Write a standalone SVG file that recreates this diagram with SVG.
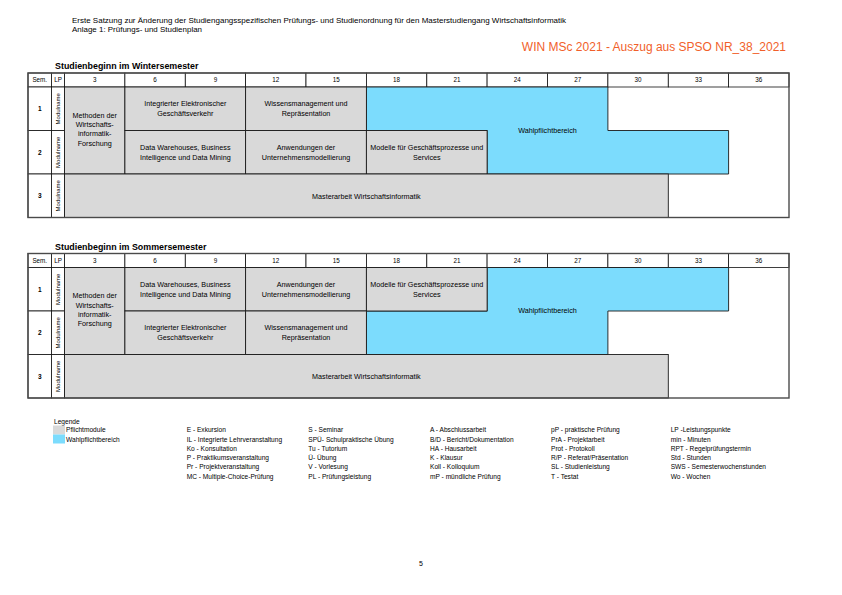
<svg xmlns="http://www.w3.org/2000/svg" width="842" height="595" viewBox="0 0 842 595">
<style>
text{font-family:"Liberation Sans",Arial,sans-serif;fill:#000}
.hd{font-size:7px}
.ttl{font-size:8.9px;font-weight:bold}
.org{font-size:12px;fill:#F15F2A}
.num{font-size:6.3px;text-anchor:middle}
.sem{font-size:6.5px;font-weight:bold;text-anchor:middle}
.mod{font-size:6px;text-anchor:middle}
.c{font-size:7.2px;text-anchor:middle}
.lg{font-size:6.6px}
.hcell{fill:#fff;stroke:#111;stroke-width:0.8}
.gray{fill:#D9D9D9;stroke:#1a1a1a;stroke-width:0.9}
.blue{fill:#7CDCFD;stroke:#1a1a1a;stroke-width:0.9}
.wcell{fill:#fff;stroke:#111;stroke-width:0.8}
.outer{fill:none;stroke:#4a4a4a;stroke-width:1.4}
</style>
<rect width="842" height="595" fill="#fff"/>

<g id="header">
<text class="hd" x="72" y="23" textLength="494" lengthAdjust="spacingAndGlyphs">Erste Satzung zur Änderung der Studiengangsspezifischen Prüfungs- und Studienordnung für den Masterstudiengang Wirtschaftsinformatik</text>
<text class="hd" x="72" y="31.5" textLength="130" lengthAdjust="spacingAndGlyphs">Anlage 1: Prüfungs- und Studienplan</text>
<text class="org" x="786" y="50.5" text-anchor="end">WIN MSc 2021 - Auszug aus SPSO NR_38_2021</text>
</g>

<!-- ============ WINTER ============ -->
<g id="winter-table">
<text class="ttl" x="55" y="69">Studienbeginn im Wintersemester</text>
<rect x="28" y="73" width="761" height="144.5" fill="#fff"/>
<g id="w-headrow">
<rect class="hcell" x="28" y="73" width="23.5" height="14"/>
<rect class="hcell" x="51.5" y="73" width="13" height="14"/>
<rect class="hcell" x="64.5" y="73" width="60.4" height="14"/>
<rect class="hcell" x="124.9" y="73" width="60.4" height="14"/>
<rect class="hcell" x="185.3" y="73" width="60.3" height="14"/>
<rect class="hcell" x="245.6" y="73" width="60.4" height="14"/>
<rect class="hcell" x="306" y="73" width="60.4" height="14"/>
<rect class="hcell" x="366.4" y="73" width="60.4" height="14"/>
<rect class="hcell" x="426.8" y="73" width="60.3" height="14"/>
<rect class="hcell" x="487.1" y="73" width="60.4" height="14"/>
<rect class="hcell" x="547.5" y="73" width="60.4" height="14"/>
<rect class="hcell" x="607.9" y="73" width="60.4" height="14"/>
<rect class="hcell" x="668.3" y="73" width="60.3" height="14"/>
<rect class="hcell" x="728.6" y="73" width="60.4" height="14"/>
<text class="num" x="39.75" y="82.3">Sem.</text>
<text class="num" x="58" y="82.3">LP</text>
<text class="num" x="94.7" y="82.3">3</text>
<text class="num" x="155.1" y="82.3">6</text>
<text class="num" x="215.4" y="82.3">9</text>
<text class="num" x="275.8" y="82.3">12</text>
<text class="num" x="336.2" y="82.3">15</text>
<text class="num" x="396.6" y="82.3">18</text>
<text class="num" x="457" y="82.3">21</text>
<text class="num" x="517.3" y="82.3">24</text>
<text class="num" x="577.7" y="82.3">27</text>
<text class="num" x="638.1" y="82.3">30</text>
<text class="num" x="698.5" y="82.3">33</text>
<text class="num" x="758.8" y="82.3">36</text>
</g>
<g id="w-semcol">
<rect class="wcell" x="28" y="87" width="23.5" height="43.5"/>
<rect class="wcell" x="28" y="130.5" width="23.5" height="43.5"/>
<rect class="wcell" x="28" y="174" width="23.5" height="43.5"/>
<rect class="wcell" x="51.5" y="87" width="13" height="43.5"/>
<rect class="wcell" x="51.5" y="130.5" width="13" height="43.5"/>
<rect class="wcell" x="51.5" y="174" width="13" height="43.5"/>
<text class="sem" x="39.75" y="111">1</text>
<text class="sem" x="39.75" y="154.5">2</text>
<text class="sem" x="39.75" y="198">3</text>
<text class="mod" transform="translate(60.2,108.75) rotate(-90)">Modulname</text>
<text class="mod" transform="translate(60.2,152.25) rotate(-90)">Modulname</text>
<text class="mod" transform="translate(60.2,195.75) rotate(-90)">Modulname</text>
</g>
<g id="w-wahlpflicht">
<polygon class="blue" points="366.4,87 607.9,87 607.9,130.5 728.6,130.5 728.6,174 487.1,174 487.1,130.5 366.4,130.5"/>
<text class="c" x="547.5" y="133.3">Wahlpflichtbereich</text>
</g>
<g id="w-methoden">
<rect class="gray" x="64.5" y="87" width="60.4" height="87"/>
<text class="c" x="94.7" y="117.8">Methoden der</text>
<text class="c" x="94.7" y="127.1">Wirtschafts-</text>
<text class="c" x="94.7" y="136.4">informatik-</text>
<text class="c" x="94.7" y="145.7">Forschung</text>
</g>
<g id="w-ieg">
<rect class="gray" x="124.9" y="87" width="120.7" height="43.5"/>
<text class="c" x="185.3" y="106.1">Integrierter Elektronischer</text>
<text class="c" x="185.3" y="116.4">Geschäftsverkehr</text>
</g>
<g id="w-wm">
<rect class="gray" x="245.6" y="87" width="120.8" height="43.5"/>
<text class="c" x="306" y="106.1">Wissensmanagement und</text>
<text class="c" x="306" y="116.4">Repräsentation</text>
</g>
<g id="w-dw">
<rect class="gray" x="124.9" y="130.5" width="120.7" height="43.5"/>
<text class="c" x="185.3" y="149.6">Data Warehouses, Business</text>
<text class="c" x="185.3" y="159.9">Intelligence und Data Mining</text>
</g>
<g id="w-aum">
<rect class="gray" x="245.6" y="130.5" width="120.8" height="43.5"/>
<text class="c" x="306" y="149.6">Anwendungen der</text>
<text class="c" x="306" y="159.9">Unternehmensmodellierung</text>
</g>
<g id="w-mgs">
<rect class="gray" x="366.4" y="130.5" width="120.7" height="43.5"/>
<text class="c" x="426.8" y="149.6">Modelle für Geschäftsprozesse und</text>
<text class="c" x="426.8" y="159.9">Services</text>
</g>
<g id="w-ma">
<rect class="gray" x="64.5" y="174" width="603.8" height="43.5"/>
<text class="c" x="366.4" y="198.5">Masterarbeit Wirtschaftsinformatik</text>
</g>
<rect class="outer" x="28" y="73" width="761" height="144.5"/>
</g>

<!-- ============ SUMMER ============ -->
<g id="summer-table">
<text class="ttl" x="55" y="249.5">Studienbeginn im Sommersemester</text>
<rect x="28" y="253.5" width="761" height="144.5" fill="#fff"/>
<g id="s-headrow">
<rect class="hcell" x="28" y="253.5" width="23.5" height="14"/>
<rect class="hcell" x="51.5" y="253.5" width="13" height="14"/>
<rect class="hcell" x="64.5" y="253.5" width="60.4" height="14"/>
<rect class="hcell" x="124.9" y="253.5" width="60.4" height="14"/>
<rect class="hcell" x="185.3" y="253.5" width="60.3" height="14"/>
<rect class="hcell" x="245.6" y="253.5" width="60.4" height="14"/>
<rect class="hcell" x="306" y="253.5" width="60.4" height="14"/>
<rect class="hcell" x="366.4" y="253.5" width="60.4" height="14"/>
<rect class="hcell" x="426.8" y="253.5" width="60.3" height="14"/>
<rect class="hcell" x="487.1" y="253.5" width="60.4" height="14"/>
<rect class="hcell" x="547.5" y="253.5" width="60.4" height="14"/>
<rect class="hcell" x="607.9" y="253.5" width="60.4" height="14"/>
<rect class="hcell" x="668.3" y="253.5" width="60.3" height="14"/>
<rect class="hcell" x="728.6" y="253.5" width="60.4" height="14"/>
<text class="num" x="39.75" y="262.8">Sem.</text>
<text class="num" x="58" y="262.8">LP</text>
<text class="num" x="94.7" y="262.8">3</text>
<text class="num" x="155.1" y="262.8">6</text>
<text class="num" x="215.4" y="262.8">9</text>
<text class="num" x="275.8" y="262.8">12</text>
<text class="num" x="336.2" y="262.8">15</text>
<text class="num" x="396.6" y="262.8">18</text>
<text class="num" x="457" y="262.8">21</text>
<text class="num" x="517.3" y="262.8">24</text>
<text class="num" x="577.7" y="262.8">27</text>
<text class="num" x="638.1" y="262.8">30</text>
<text class="num" x="698.5" y="262.8">33</text>
<text class="num" x="758.8" y="262.8">36</text>
</g>
<g id="s-semcol">
<rect class="wcell" x="28" y="267.5" width="23.5" height="43.5"/>
<rect class="wcell" x="28" y="311" width="23.5" height="43.5"/>
<rect class="wcell" x="28" y="354.5" width="23.5" height="43.5"/>
<rect class="wcell" x="51.5" y="267.5" width="13" height="43.5"/>
<rect class="wcell" x="51.5" y="311" width="13" height="43.5"/>
<rect class="wcell" x="51.5" y="354.5" width="13" height="43.5"/>
<text class="sem" x="39.75" y="291.5">1</text>
<text class="sem" x="39.75" y="335">2</text>
<text class="sem" x="39.75" y="378.5">3</text>
<text class="mod" transform="translate(60.2,289.25) rotate(-90)">Modulname</text>
<text class="mod" transform="translate(60.2,332.75) rotate(-90)">Modulname</text>
<text class="mod" transform="translate(60.2,376.25) rotate(-90)">Modulname</text>
</g>
<g id="s-wahlpflicht">
<polygon class="blue" points="487.1,267.5 728.6,267.5 728.6,311 607.9,311 607.9,354.5 366.4,354.5 366.4,311 487.1,311"/>
<text class="c" x="547.5" y="313.3">Wahlpflichtbereich</text>
</g>
<g id="s-methoden">
<rect class="gray" x="64.5" y="267.5" width="60.4" height="87"/>
<text class="c" x="94.7" y="298.3">Methoden der</text>
<text class="c" x="94.7" y="307.6">Wirtschafts-</text>
<text class="c" x="94.7" y="316.9">informatik-</text>
<text class="c" x="94.7" y="326.2">Forschung</text>
</g>
<g id="s-dw">
<rect class="gray" x="124.9" y="267.5" width="120.7" height="43.5"/>
<text class="c" x="185.3" y="286.6">Data Warehouses, Business</text>
<text class="c" x="185.3" y="296.9">Intelligence und Data Mining</text>
</g>
<g id="s-aum">
<rect class="gray" x="245.6" y="267.5" width="120.8" height="43.5"/>
<text class="c" x="306" y="286.6">Anwendungen der</text>
<text class="c" x="306" y="296.9">Unternehmensmodellierung</text>
</g>
<g id="s-mgs">
<rect class="gray" x="366.4" y="267.5" width="120.7" height="43.5"/>
<text class="c" x="426.8" y="286.6">Modelle für Geschäftsprozesse und</text>
<text class="c" x="426.8" y="296.9">Services</text>
</g>
<g id="s-ieg">
<rect class="gray" x="124.9" y="311" width="120.7" height="43.5"/>
<text class="c" x="185.3" y="330.1">Integrierter Elektronischer</text>
<text class="c" x="185.3" y="340.4">Geschäftsverkehr</text>
</g>
<g id="s-wm">
<rect class="gray" x="245.6" y="311" width="120.8" height="43.5"/>
<text class="c" x="306" y="330.1">Wissensmanagement und</text>
<text class="c" x="306" y="340.4">Repräsentation</text>
</g>
<g id="s-ma">
<rect class="gray" x="64.5" y="354.5" width="603.8" height="43.5"/>
<text class="c" x="366.4" y="378.5">Masterarbeit Wirtschaftsinformatik</text>
</g>
<rect class="outer" x="28" y="253.5" width="761" height="144.5"/>
</g>

<g id="connectors"></g>

<!-- ============ LEGEND ============ -->
<g id="legend">
<text class="lg" x="54" y="423.5">Legende</text>
<rect x="53" y="425.5" width="12" height="9" fill="#D9D9D9"/>
<rect x="53" y="434.5" width="12" height="9" fill="#7CDCFD"/>
<text class="lg" x="66" y="432.3">Pflichtmodule</text>
<text class="lg" x="66" y="441.5">Wahlpflichtbereich</text>

<text class="lg" x="186.7" y="432.3">E - Exkursion</text>
<text class="lg" x="186.7" y="441.5">IL - Integrierte Lehrveranstaltung</text>
<text class="lg" x="186.7" y="450.8">Ko - Konsultation</text>
<text class="lg" x="186.7" y="460.1">P - Praktikumsveranstaltung</text>
<text class="lg" x="186.7" y="469.4">Pr - Projektveranstaltung</text>
<text class="lg" x="186.7" y="478.7">MC - Multiple-Choice-Prüfung</text>

<text class="lg" x="308.3" y="432.3">S - Seminar</text>
<text class="lg" x="308.3" y="441.5">SPÜ- Schulpraktische Übung</text>
<text class="lg" x="308.3" y="450.8">Tu - Tutorium</text>
<text class="lg" x="308.3" y="460.1">Ü- Übung</text>
<text class="lg" x="308.3" y="469.4">V - Vorlesung</text>
<text class="lg" x="308.3" y="478.7">PL - Prüfungsleistung</text>

<text class="lg" x="430" y="432.3">A - Abschlussarbeit</text>
<text class="lg" x="430" y="441.5">B/D - Bericht/Dokumentation</text>
<text class="lg" x="430" y="450.8">HA - Hausarbeit</text>
<text class="lg" x="430" y="460.1">K - Klausur</text>
<text class="lg" x="430" y="469.4">Koll - Kolloquium</text>
<text class="lg" x="430" y="478.7">mP - mündliche Prüfung</text>

<text class="lg" x="551" y="432.3">pP - praktische Prüfung</text>
<text class="lg" x="551" y="441.5">PrA - Projektarbeit</text>
<text class="lg" x="551" y="450.8">Prot - Protokoll</text>
<text class="lg" x="551" y="460.1">R/P - Referat/Präsentation</text>
<text class="lg" x="551" y="469.4">SL - Studienleistung</text>
<text class="lg" x="551" y="478.7">T - Testat</text>

<text class="lg" x="670.7" y="432.3">LP -Leistungspunkte</text>
<text class="lg" x="670.7" y="441.5">min - Minuten</text>
<text class="lg" x="670.7" y="450.8">RPT - Regelprüfungstermin</text>
<text class="lg" x="670.7" y="460.1">Std - Stunden</text>
<text class="lg" x="670.7" y="469.4">SWS - Semesterwochenstunden</text>
<text class="lg" x="670.7" y="478.7">Wo - Wochen</text>
</g>

<g id="page-number">
<text class="hd" x="421" y="565.5" text-anchor="middle">5</text>
</g>
</svg>
